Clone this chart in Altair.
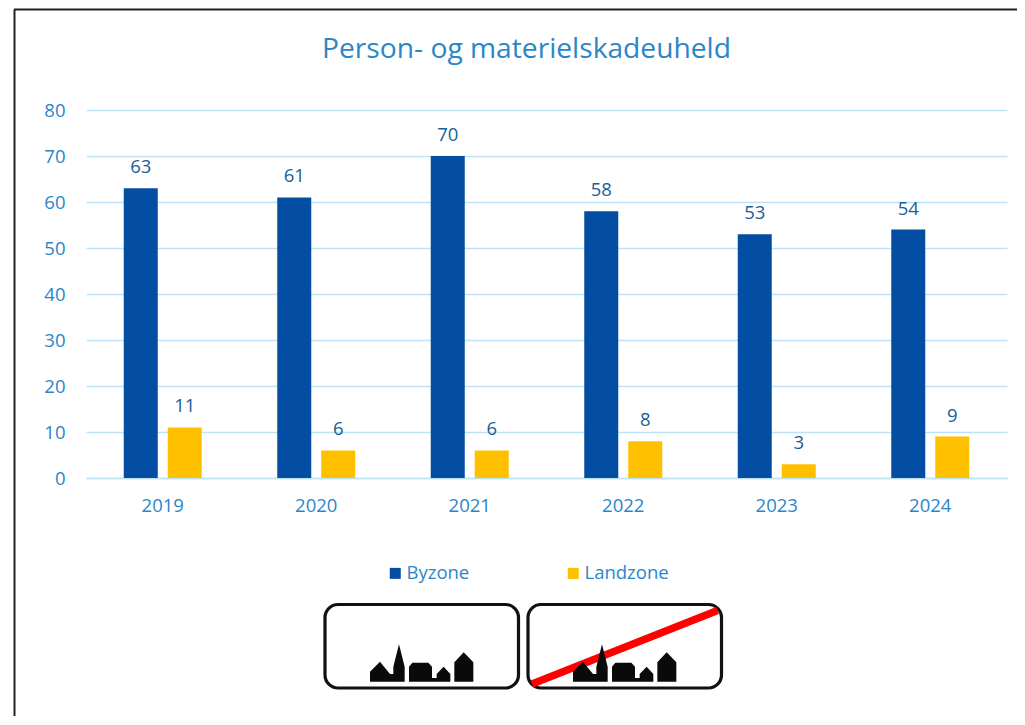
import altair as alt
import pandas as pd

years = ["2019", "2020", "2021", "2022", "2023", "2024"]
byzone = [63, 61, 70, 58, 53, 54]
landzone = [11, 6, 6, 8, 3, 9]
zones = ["Byzone", "Landzone"]
zone_colors = ["#034EA2", "#FFC000"]
FONT = "Open Sans"
AXIS_BLUE = "#2A86C9"
LABEL_BLUE = "#1A5E96"
GRID = "#BFE3F6"

PLOT_L, PLOT_T = 86, 110
W, H = 921, 368


def px(x):
    return alt.value(x - PLOT_L)


def py(y):
    return alt.value(y - PLOT_T)


rows = [{"year": y, "zone": zones[0], "n": v} for y, v in zip(years, byzone)] + [
    {"year": y, "zone": zones[1], "n": v} for y, v in zip(years, landzone)
]
df = pd.DataFrame(rows)
one = pd.DataFrame({"a": [0]})

xs = alt.X("year:N", sort=years, title=None,
           scale=alt.Scale(paddingInner=0, paddingOuter=0),
           axis=alt.Axis(labelAngle=0, ticks=False, domainColor=GRID, domainWidth=1.5,
                         labelColor=AXIS_BLUE, labelFontSize=18.5, labelFont=FONT, labelPadding=18, grid=False))
offs = alt.XOffset("zone:N", sort=zones,
                   scale=alt.Scale(paddingInner=0.227, paddingOuter=0.858))
ys = alt.Y("n:Q", title=None, scale=alt.Scale(domain=[0, 80]),
           axis=alt.Axis(values=list(range(0, 81, 10)), ticks=False, domain=False,
                         gridColor=GRID, gridWidth=1.5, labelColor=AXIS_BLUE,
                         labelFontSize=18.5, labelFont=FONT, labelPadding=21))

bars = alt.Chart(df).mark_bar().encode(
    x=xs, xOffset=offs, y=ys,
    color=alt.Color("zone:N", sort=zones,
                    scale=alt.Scale(domain=zones, range=zone_colors),
                    legend=alt.Legend(orient="none", legendX=389 - 86 - 3, legendY=564 - PLOT_T,
                                      columns=2, columnPadding=94, title=None, symbolType="square",
                                      symbolSize=121, symbolStrokeWidth=0, labelFontSize=18.5,
                                      labelFont=FONT, labelColor=AXIS_BLUE, labelOffset=2)),
)
labels = alt.Chart(df).mark_text(font=FONT, fontSize=18.5, color=LABEL_BLUE, dy=-15,
                                 baseline="alphabetic").encode(
    x=alt.X("year:N", sort=years), xOffset=offs, y="n:Q", text="n:Q")


def rule(x1, y1, x2, y2, color, sw):
    return alt.Chart(one).mark_rule(color=color, strokeWidth=sw).encode(
        x=px(x1), x2=px(x2), y=py(y1), y2=py(y2))


frame = rule(14.5, 9.5, 14.5, 725, "#222222", 2) + rule(14, 9.5, 1025, 9.5, "#222222", 2)

SKYLINE = ("M-155,45 V15 L-125,-15 L-95,22 H-85 V0 L-68,-67 L-51,0 V45 Z "
           "M-38,45 V0 L-28,-12 H20 L31,0 V34 H45 V22 L66,0 L86,22 V45 Z "
           "M98,45 V-13 L126,-43 L155,-13 V45 Z")


def sign(left, right, top, bottom, crossed):
    box = alt.Chart(one).mark_rect(fill="white", stroke="#111111", strokeWidth=3.2, cornerRadius=13).encode(
        x=px(left), x2=px(right), y=py(top), y2=py(bottom))
    layers = [box]
    if crossed:
        layers.append(alt.Chart(one).mark_rule(color="#FF0000", strokeWidth=7.5).encode(
            x=px(left + 4), x2=px(right - 4), y=py(bottom - 4), y2=py(top + 6)))
    cx = left + (335 - 42) / 3 - 1
    cy = 550 + 350 / 3
    layers.append(alt.Chart(one).mark_point(shape=SKYLINE, size=4 / 9, filled=True, opacity=1, color="#0A0A0A").encode(
        x=px(cx), y=py(cy)))
    return alt.layer(*layers)


chart = alt.layer(
    frame, bars, labels,
    sign(325, 518.5, 604.5, 688, False),
    sign(528, 721.5, 604.5, 688, True),
).properties(
    width=W, height=H,
    title=alt.TitleParams("Person- og materielskadeuheld", font=FONT, fontSize=28.2, fontWeight="normal",
                          color=AXIS_BLUE, anchor="middle", dx=-20, offset=-78, baseline="alphabetic"),
    padding={"left": 78, "top": 102, "right": 10, "bottom": 238},
    autosize=alt.AutoSizeParams(type="none"),
).configure_view(stroke=None)

chart.save("out.html", embed_options={"renderer": "svg", "actions": False})
